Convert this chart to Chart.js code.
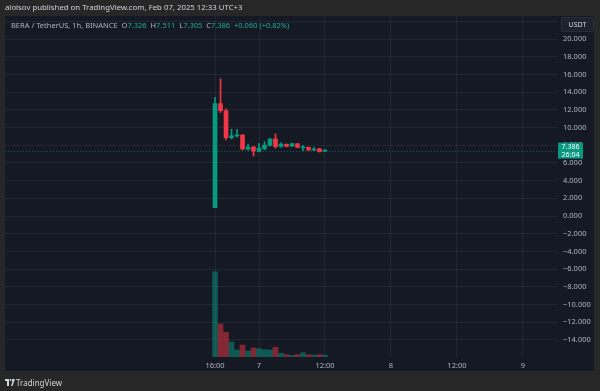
<!DOCTYPE html>
<html>
<head>
<meta charset="utf-8">
<script src="https://cdn.jsdelivr.net/npm/chart.js@4.4.1/dist/chart.umd.min.js"></script>
<style>
  body { margin: 0; background: #272727; }
  #wrap { position: relative; width: 600px; height: 391px; font-family: "Noto Sans", sans-serif; }
  canvas { position: absolute; left: 0; top: 0; }
  .txt { position: absolute; white-space: nowrap; font-size: 7.5px; }
  #head { left: 5px; top: 2px; color: #d1d4dc; font-size: 7.8px; }
  #legend { left: 11px; top: 20px; color: #b2b5be; }
  #legend .g { color: #22ab94; }
  #usdt { left: 561px; top: 17px; width: 31px; height: 13px; line-height: 13px; text-align: center;
          background: #1e222d; border: 1px solid #2a2e39; border-radius: 2px; color: #d1d4dc; font-size: 7px; }
  #foot { left: 16px; top: 377px; color: #d1d4dc; font-size: 8px; }
  #logo { position: absolute; left: 5px; top: 379px; }
</style>
</head>
<body>
<div id="wrap">
  <canvas id="myChart" width="600" height="391"></canvas>
  <div class="txt" id="head">aloisov published on TradingView.com, Feb 07, 2025 12:33 UTC+3</div>
  <div class="txt" id="legend">BERA / TetherUS, 1h, BINANCE&nbsp;&nbsp;O<span class="g">7.326</span>&nbsp;&nbsp;H<span class="g">7.511</span>&nbsp;&nbsp;L<span class="g">7.305</span>&nbsp;&nbsp;C<span class="g">7.386</span>&nbsp;&nbsp;<span class="g">+0.060 (+0.82%)</span></div>
  <div class="txt" id="usdt">USDT</div>
  <svg id="logo" width="10" height="7" viewBox="0 0 10 7"><rect x="0" y="0" width="4" height="2" fill="#d1d4dc"/><rect x="2" y="0" width="2" height="7" fill="#d1d4dc"/><circle cx="5.5" cy="1" r="1" fill="#d1d4dc"/><polygon points="7,0 10,0 7.5,7 6,7 7.2,3.5" fill="#d1d4dc"/></svg>
  <div class="txt" id="foot">TradingView</div>
</div>
<script>
// hourly candles, Feb 6 16:00 -> Feb 7 12:00
const hours = ['16:00','17:00','18:00','19:00','20:00','21:00','22:00','23:00','00:00','01:00','02:00',
               '03:00','04:00','05:00','06:00','07:00','08:00','09:00','10:00','11:00','12:00'];
const open  = [0.94, 12.70, 11.90, 8.85, 9.05, 9.15, 7.54, 7.80, 7.30, 7.60, 7.99, 8.70, 7.87, 8.10, 7.90, 8.17, 7.70, 7.76, 7.44, 7.60, 7.326];
const close = [12.70, 11.90, 8.85, 9.07, 9.10, 7.57, 7.80, 7.34, 7.68, 8.02, 8.70, 7.83, 8.13, 7.87, 8.17, 7.76, 7.72, 7.46, 7.55, 7.27, 7.386];
const high  = [13.40, 15.50, 12.10, 9.80, 9.80, 9.20, 8.13, 7.85, 8.20, 8.40, 8.78, 9.27, 8.28, 8.15, 8.25, 8.20, 7.99, 7.80, 7.76, 7.65, 7.511];
const low   = [0.94, 11.70, 8.60, 8.70, 8.90, 7.46, 7.45, 6.78, 7.25, 7.46, 7.90, 7.68, 7.76, 7.80, 7.85, 7.70, 7.38, 7.40, 7.40, 7.20, 7.305];
const volume = [85.3, 33, 24.7, 15, 7, 12, 6, 9, 8.3, 7.3, 7, 9.7, 3.7, 2.3, 1.7, 2.3, 4.3, 2.3, 2, 2.3, 2];

// time axis: hours from first candle
const timeTicks  = [0, 8, 20, 32, 44, 56];
const timeLabels = ['16:00', '7', '12:00', '8', '12:00', '9'];

const UP = '#089981', DOWN = '#f23645';
const isUp = open.map((o, i) => close[i] >= o);
const col = isUp.map(u => u ? UP : DOWN);
const volCol = isUp.map(u => u ? 'rgba(8,153,129,0.5)' : 'rgba(242,54,69,0.5)');

const bg = {
  id: 'bg',
  beforeDraw(chart) {
    const c = chart.ctx;
    c.save();
    c.fillStyle = '#272727';
    c.fillRect(0, 0, 600, 391);
    c.fillStyle = '#151924';
    c.fillRect(5, 16, 589, 355);
    c.restore();
  },
  beforeDatasetsDraw(chart) {
    // last price dotted line
    const c = chart.ctx, a = chart.chartArea;
    const y = chart.scales.y.getPixelForValue(close[close.length - 1]);
    c.save();
    c.strokeStyle = 'rgba(8,153,129,0.55)';
    c.setLineDash([1, 2]);
    c.lineWidth = 1;
    c.beginPath();
    c.moveTo(a.left, Math.round(y) + 0.5);
    c.lineTo(a.right, Math.round(y) + 0.5);
    c.stroke();
    c.restore();
  },
  afterDraw(chart) {
    const c = chart.ctx;
    const last = close[close.length - 1];
    const y = chart.scales.y.getPixelForValue(last);
    c.save();
    c.fillStyle = UP;
    c.fillRect(558, y - 8, 25, 16);
    c.fillStyle = '#ffffff';
    c.font = '7px "Noto Sans"';
    c.textAlign = 'center';
    c.textBaseline = 'middle';
    c.fillText(last.toFixed(3), 570.5, y - 3.5);
    c.fillText('26:04', 570.5, y + 4);
    c.restore();
  }
};

const ctx = document.getElementById('myChart');
new Chart(ctx, {
  type: 'bar',
  data: {
    datasets: [
      {
        label: 'Body',
        data: hours.map((h, i) => ({ x: i, y: [open[i], close[i]] })),
        backgroundColor: col,
        barThickness: 4,
        minBarLength: 1,
        grouped: false,
        order: 1
      },
      {
        label: 'Wick',
        data: hours.map((h, i) => ({ x: i, y: [low[i], high[i]] })),
        backgroundColor: col,
        barThickness: 1,
        grouped: false,
        order: 2
      },
      {
        label: 'Volume',
        data: hours.map((h, i) => ({ x: i, y: volume[i] })),
        backgroundColor: volCol,
        barThickness: 5,
        grouped: false,
        yAxisID: 'yv',
        order: 3
      }
    ]
  },
  options: {
    responsive: false,
    animation: false,
    layout: { padding: { left: 5, top: 16, right: 6, bottom: 20 } },
    plugins: { legend: { display: false }, tooltip: { enabled: false } },
    scales: {
      x: {
        type: 'linear',
        min: -38.2,
        max: 62.2,
        offset: false,
        grid: { color: 'rgba(255,255,255,0.06)', drawTicks: false, offset: false },
        border: { display: false },
        afterBuildTicks(s) { s.ticks = timeTicks.map(v => ({ value: v })); },
        afterFit(s) { s.height = 14; },
        ticks: {
          padding: 4,
          maxRotation: 0,
          autoSkip: false,
          color: '#b2b5be',
          font: { size: 7.5, family: 'Noto Sans' },
          callback: v => timeLabels[timeTicks.indexOf(v)]
        }
      },
      y: {
        position: 'right',
        min: -15.93,
        max: 22.6,
        grid: { color: 'rgba(255,255,255,0.06)', drawTicks: false },
        border: { display: false },
        afterFit(s) { s.width = 37; },
        ticks: {
          stepSize: 2,
          includeBounds: false,
          padding: 6,
          color: '#b2b5be',
          font: { size: 7.5, family: 'Noto Sans' },
          callback: v => (v < 0 ? '\u2212' : '') + Math.abs(v).toFixed(3)
        }
      },
      yv: {
        display: false,
        min: 0,
        max: 4 * Math.max(...volume)
      }
    }
  },
  plugins: [bg]
});
</script>
</body>
</html>
